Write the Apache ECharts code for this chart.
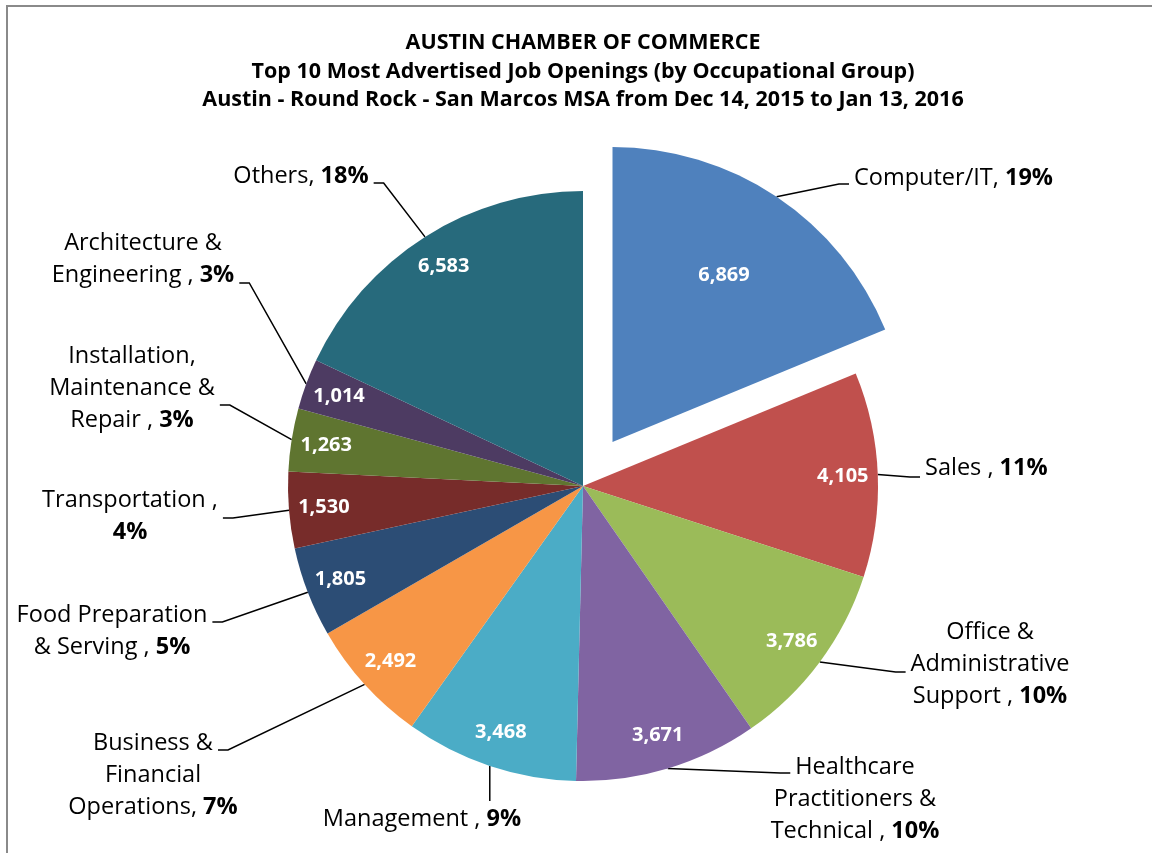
<!DOCTYPE html>
<html>
<head>
<meta charset="utf-8">
<script src="https://cdn.jsdelivr.net/npm/echarts@6/dist/echarts.min.js"></script>
<style>
  html, body { margin: 0; padding: 0; background: #fff; overflow: hidden; }
  #chart { position: absolute; left: 0; top: 0; width: 1152px; height: 853px; }
  #frame { position: absolute; left: 6px; top: 5px; width: 1300px; height: 1000px;
           border-top: 2px solid #8a8a8a; border-left: 2px solid #8a8a8a; pointer-events: none; }
</style>
</head>
<body>
<div id="chart"></div>
<div id="frame"></div>
<script>
// ---- data ----
const titleLines = [
  'AUSTIN CHAMBER OF COMMERCE',
  'Top 10 Most Advertised Job Openings (by Occupational Group)',
  'Austin - Round Rock - San Marcos MSA from Dec 14, 2015 to Jan 13, 2016'
];
const categories = [
  'Computer/IT', 'Sales', 'Office & Administrative Support',
  'Healthcare Practitioners & Technical', 'Management',
  'Business & Financial Operations', 'Food Preparation & Serving',
  'Transportation', 'Installation, Maintenance & Repair',
  'Architecture & Engineering', 'Others'
];
const labelTexts = [
  'Computer/IT, ', 'Sales , ', 'Office &\nAdministrative\nSupport , ',
  'Healthcare\nPractitioners &\nTechnical , ', 'Management , ',
  'Business &\nFinancial\nOperations, ', 'Food Preparation\n& Serving , ',
  'Transportation ,\n', 'Installation,\nMaintenance &\nRepair , ',
  'Architecture &\nEngineering , ', 'Others, '
];
const jobOpenings = [6869, 4105, 3786, 3671, 3468, 2492, 1805, 1530, 1263, 1014, 6583];
const colors = ['#4F81BD', '#C0504D', '#9BBB59', '#8064A2', '#4BACC6', '#F79646',
                '#2C4D75', '#772C2A', '#5F7530', '#4D3B62', '#276A7C'];
const explodedIndex = 0;

// ---- layout (not data) ----
const CX = 583, CY = 486, R = 295, OFFSET = 53;
const FONT = 'Open Sans', LABEL_SIZE = 23.5;
// label anchor: x, y, text align, side the leader line attaches, attach y, attach text line
const labelPos = [
  { x: 854, y: 178, align: 'left',   side: 'left',  ay: 184, line: 0 },
  { x: 925, y: 468, align: 'left',   side: 'left',  ay: 477, line: 0 },
  { x: 990, y: 664, align: 'center', side: 'left',  ay: 672, line: 1 },
  { x: 855, y: 799, align: 'center', side: 'left',  ay: 773, line: 0 },
  { x: 422, y: 819, align: 'center', side: 'top',   ay: 0,   line: 0 },
  { x: 153, y: 775, align: 'center', side: 'right', ay: 750, line: 0 },
  { x: 112, y: 631, align: 'center', side: 'right', ay: 622, line: 0 },
  { x: 130, y: 516, align: 'center', side: 'right', ay: 518, line: 0 },
  { x: 132, y: 388, align: 'center', side: 'right', ay: 405, line: 1 },
  { x: 143, y: 259, align: 'center', side: 'right', ay: 283, line: 1 },
  { x: 301, y: 176, align: 'center', side: 'right', ay: 183, line: 0 }
];

const total = jobOpenings.reduce((a, b) => a + b, 0);
const fmtNum = v => v.toLocaleString('en-US');
const pctText = i => Math.round(jobOpenings[i] / total * 100) + '%';
function midAngle(i) {
  let cum = 0;
  for (let k = 0; k < i; k++) cum += jobOpenings[k];
  return (cum + jobOpenings[i] / 2) / total * Math.PI * 2;
}
function edgePoint(i) {
  const a = midAngle(i);
  let cx = CX, cy = CY;
  if (i === explodedIndex) { cx += OFFSET * Math.sin(a); cy -= OFFSET * Math.cos(a); }
  return [cx + R * Math.sin(a), cy - R * Math.cos(a)];
}
const ctx = document.createElement('canvas').getContext('2d');
function lineWidth(i, k) {
  const lines = labelTexts[i].split('\n');
  ctx.font = LABEL_SIZE + 'px "' + FONT + '"';
  let w = ctx.measureText(lines[k]).width;
  if (k === lines.length - 1) {
    ctx.font = 'bold ' + LABEL_SIZE + 'px "' + FONT + '"';
    w += ctx.measureText(pctText(i)).width;
  }
  return w;
}

const baseData = categories.map((c, i) => ({ name: c, value: jobOpenings[i] }));

const common = {
  type: 'pie', center: [CX, CY], startAngle: 90, clockwise: true,
  selectedMode: 'single', selectedOffset: OFFSET, animation: false,
  avoidLabelOverlap: false
};
const withSel = d => d.map((x, i) => Object.assign({ selected: i === explodedIndex }, x));

const chart = echarts.init(document.getElementById('chart'), null, { renderer: 'canvas' });
chart.setOption({
  backgroundColor: 'transparent',
  title: {
    text: titleLines.join('\n'),
    left: 583, top: 29, textAlign: 'center', padding: 0,
    textStyle: { fontFamily: FONT, fontWeight: 'bold', fontSize: 21.5, lineHeight: 28.5, color: '#000' }
  },
  series: [
    Object.assign({}, common, {
      name: 'slices', radius: [0, R],
      data: withSel(baseData.map((d, i) => Object.assign({}, d, { itemStyle: { color: colors[i] } }))),
      itemStyle: { borderWidth: 0 },
      label: { show: false }, labelLine: { show: false },
      emphasis: { disabled: true }, silent: true
    }),
    Object.assign({}, common, {
      name: 'values', radius: [219, R], silent: true,
      itemStyle: { color: 'rgba(0,0,0,0)', borderWidth: 0 },
      data: withSel(baseData.map((d, i) => Object.assign({}, d, { label: { show: i !== explodedIndex } }))),
      label: { show: true, position: 'inside', formatter: p => fmtNum(p.value),
               fontFamily: FONT, fontWeight: 'bold', fontSize: 20, color: '#fff' },
      labelLine: { show: false }, emphasis: { disabled: true }
    }),
    Object.assign({}, common, {
      name: 'values2', radius: [100, R], silent: true,
      itemStyle: { color: 'rgba(0,0,0,0)', borderWidth: 0 },
      data: withSel(baseData.map((d, i) => Object.assign({}, d, { label: { show: i === explodedIndex } }))),
      label: { show: true, position: 'inside', formatter: p => fmtNum(p.value),
               fontFamily: FONT, fontWeight: 'bold', fontSize: 20, color: '#fff' },
      labelLine: { show: false }, emphasis: { disabled: true }
    }),
    Object.assign({}, common, {
      name: 'names', radius: [0, R], silent: true, selectedMode: false,
      itemStyle: { color: 'rgba(0,0,0,0)', borderWidth: 0 },
      data: baseData.map((d, i) => Object.assign({}, d, { label: { align: labelPos[i].align } })),
      label: {
        show: true, position: 'outside',
        formatter: p => labelTexts[p.dataIndex] + '{b|' + pctText(p.dataIndex) + '}',
        fontFamily: FONT, fontSize: LABEL_SIZE, lineHeight: 32, color: '#000',
        rich: { b: { fontFamily: FONT, fontSize: LABEL_SIZE, lineHeight: 32, fontWeight: 'bold', color: '#000' } }
      },
      labelLine: { show: true, length: 20, length2: 10, lineStyle: { color: '#000', width: 1.5 } },
      emphasis: { disabled: true },
      labelLayout: function (p) {
        const i = p.dataIndex;
        const L = labelPos[i];
        const h = p.labelRect.height;
        const top = L.y - h / 2;
        const e = edgePoint(i);
        const lw = lineWidth(i, L.line);
        const lineLeft = L.align === 'left' ? L.x : L.x - lw / 2;
        let pts;
        if (L.side === 'left') {
          const x2 = lineLeft - 5;
          pts = [e, [x2 - 10, L.ay], [x2, L.ay]];
        } else if (L.side === 'right') {
          const x2 = lineLeft + lw + 5;
          pts = [e, [x2 + 10, L.ay], [x2, L.ay]];
        } else {
          pts = [e, [e[0], top - 2], [e[0], top - 2]];
        }
        return { x: L.x, y: L.y, align: L.align, verticalAlign: 'middle', labelLinePoints: pts };
      }
    })
  ]
});
</script>
</body>
</html>
